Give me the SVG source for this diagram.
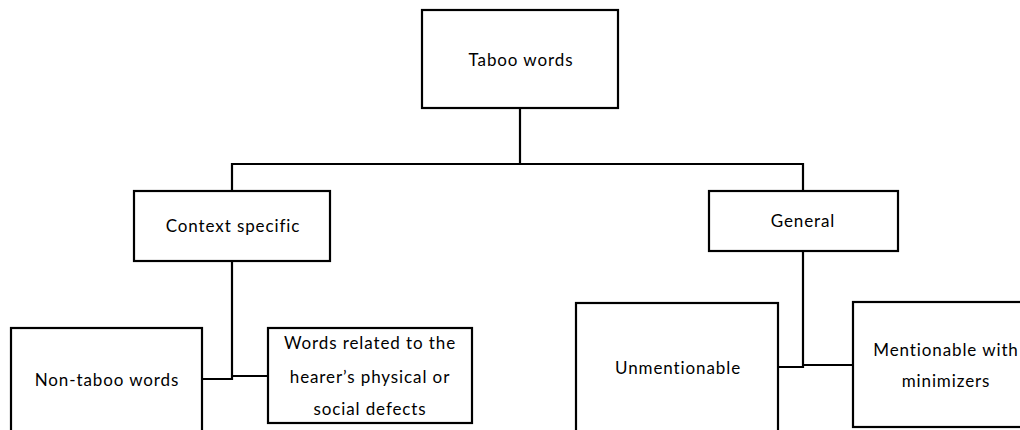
<svg xmlns="http://www.w3.org/2000/svg" width="1020" height="430" viewBox="0 0 1020 430">
<style>
.box{fill:#fff;stroke:#000;stroke-width:2.2}
.ln{fill:none;stroke:#000;stroke-width:2.2}
text{font-family:Lato,"Open Sans",sans-serif;font-size:17px;fill:#000;text-anchor:middle;letter-spacing:0.9px}
</style>
<rect width="1020" height="430" fill="#fff"/>
<g id="connectors">
<path class="ln" d="M520,108 V164 M232,191 V164 H803 V191"/>
<path class="ln" d="M232,261 V379 H202 M232,376 H268"/>
<path class="ln" d="M803,251 V367 H778 M803,365 H853"/>
</g>
<g id="taboo"><rect class="box" x="422" y="10" width="196" height="98"/><text x="521" y="66">Taboo words</text></g>
<g id="context"><rect class="box" x="134" y="191" width="196" height="70"/><text x="233" y="232">Context specific</text></g>
<g id="general"><rect class="box" x="709" y="191" width="189" height="60"/><text x="803" y="227">General</text></g>
<g id="nontaboo"><rect class="box" x="11" y="328" width="191" height="110"/><text x="107" y="386">Non-taboo words</text></g>
<g id="related"><rect class="box" x="268" y="328" width="204" height="95"/><text x="370" y="349">Words related to the</text><text x="370" y="383">hearer’s physical or</text><text x="370" y="415">social defects</text></g>
<g id="unmentionable"><rect class="box" x="576" y="303" width="202" height="135"/><text x="678" y="374">Unmentionable</text></g>
<g id="mentionable"><rect class="box" x="853" y="302" width="186" height="125"/><text x="946" y="356">Mentionable with</text><text x="946" y="387">minimizers</text></g>
</svg>
